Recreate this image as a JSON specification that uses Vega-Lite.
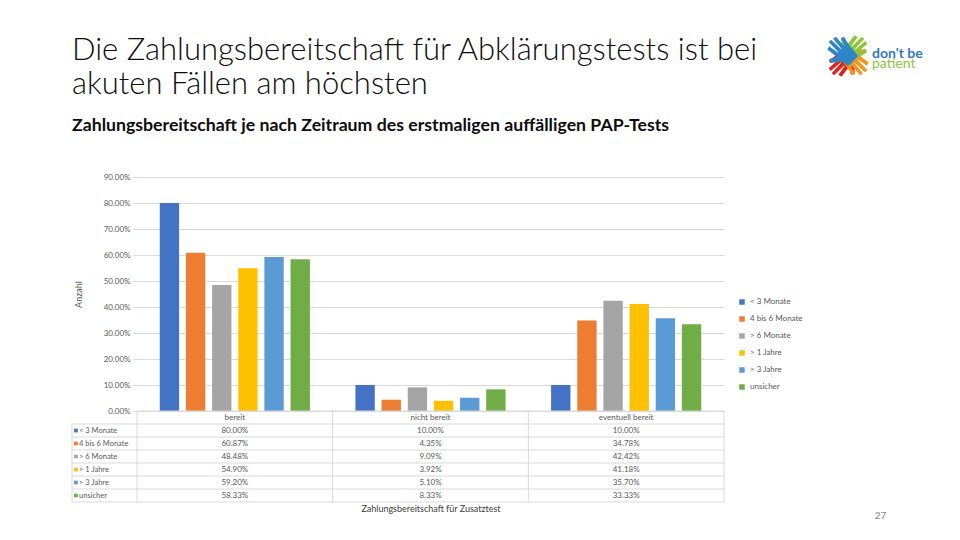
{
  "$schema": "https://vega.github.io/schema/vega-lite/v6.json",
  "background": "white",
  "padding": {"left": 71, "top": 30, "right": 10, "bottom": 5},
  "config": {"view": {"stroke": null}, "font": "Lato"},
  "datasets": {
    "payment": [
      {"category": "bereit", "series": "< 3 Monate", "value": 80.00},
      {"category": "bereit", "series": "4 bis 6 Monate", "value": 60.87},
      {"category": "bereit", "series": "> 6 Monate", "value": 48.48},
      {"category": "bereit", "series": "> 1 Jahre", "value": 54.90},
      {"category": "bereit", "series": "> 3 Jahre", "value": 59.20},
      {"category": "bereit", "series": "unsicher", "value": 58.33},
      {"category": "nicht bereit", "series": "< 3 Monate", "value": 10.00},
      {"category": "nicht bereit", "series": "4 bis 6 Monate", "value": 4.35},
      {"category": "nicht bereit", "series": "> 6 Monate", "value": 9.09},
      {"category": "nicht bereit", "series": "> 1 Jahre", "value": 3.92},
      {"category": "nicht bereit", "series": "> 3 Jahre", "value": 5.10},
      {"category": "nicht bereit", "series": "unsicher", "value": 8.33},
      {"category": "eventuell bereit", "series": "< 3 Monate", "value": 10.00},
      {"category": "eventuell bereit", "series": "4 bis 6 Monate", "value": 34.78},
      {"category": "eventuell bereit", "series": "> 6 Monate", "value": 42.42},
      {"category": "eventuell bereit", "series": "> 1 Jahre", "value": 41.18},
      {"category": "eventuell bereit", "series": "> 3 Jahre", "value": 35.70},
      {"category": "eventuell bereit", "series": "unsicher", "value": 33.33}
    ]
  },
  "spacing": 38,
  "vconcat": [
    {
      "spacing": 2,
      "hconcat": [
        {
          "width": 687,
          "height": 1,
          "data": {"values": [{}]},
          "mark": {"type": "point", "opacity": 0},
          "encoding": {},
          "title": {
            "text": ["Die Zahlungsbereitschaft für Abklärungstests ist bei", "akuten Fällen am höchsten"],
            "orient": "bottom",
            "anchor": "start",
            "frame": "group",
            "offset": 0,
            "dx": -65,
            "font": "Lato",
            "fontSize": 31,
            "fontWeight": 300,
            "color": "#0D0D0D",
            "lineHeight": 34,
            "subtitle": "Zahlungsbereitschaft je nach Zeitraum des erstmaligen auffälligen PAP-Tests",
            "subtitleFont": "Lato",
            "subtitleFontSize": 17.7,
            "subtitleFontWeight": "bold",
            "subtitleColor": "#0D0D0D",
            "subtitlePadding": 16
          }
        },
        {
          "width": 44,
          "height": 46,
          "layer": [
            {
              "data": {"values": [{"hand": "rot"}]},
              "mark": {"type": "point", "filled": true, "opacity": 1, "strokeWidth": 0, "color": "#E2231A", "size": 2300, "angle": -135,
                "shape": "M-0.36,-0.4L0.36,-0.4L0.3,0.3L-0.3,0.3Z M-0.36,-0.35L-0.42,-0.8L-0.27,-0.84L-0.19,-0.35Z M-0.17,-0.35L-0.16,-0.98L-0.02,-0.98L0,-0.35Z M0.02,-0.35L0.07,-0.95L0.21,-0.93L0.18,-0.35Z M0.2,-0.33L0.31,-0.74L0.44,-0.68L0.36,-0.28Z M-0.3,0.02L-0.74,-0.33L-0.63,-0.46L-0.24,-0.24Z"},
              "encoding": {}
            },
            {
              "data": {"values": [{"hand": "orange"}]},
              "mark": {"type": "point", "filled": true, "opacity": 1, "strokeWidth": 0, "color": "#F7941D", "size": 2300, "angle": 135,
                "shape": "M-0.36,-0.4L0.36,-0.4L0.3,0.3L-0.3,0.3Z M-0.36,-0.35L-0.42,-0.8L-0.27,-0.84L-0.19,-0.35Z M-0.17,-0.35L-0.16,-0.98L-0.02,-0.98L0,-0.35Z M0.02,-0.35L0.07,-0.95L0.21,-0.93L0.18,-0.35Z M0.2,-0.33L0.31,-0.74L0.44,-0.68L0.36,-0.28Z M-0.3,0.02L-0.74,-0.33L-0.63,-0.46L-0.24,-0.24Z"},
              "encoding": {}
            },
            {
              "data": {"values": [{"hand": "gruen"}]},
              "mark": {"type": "point", "filled": true, "opacity": 1, "strokeWidth": 0, "color": "#8CC63F", "size": 2300, "angle": 45,
                "shape": "M-0.36,-0.4L0.36,-0.4L0.3,0.3L-0.3,0.3Z M-0.36,-0.35L-0.42,-0.8L-0.27,-0.84L-0.19,-0.35Z M-0.17,-0.35L-0.16,-0.98L-0.02,-0.98L0,-0.35Z M0.02,-0.35L0.07,-0.95L0.21,-0.93L0.18,-0.35Z M0.2,-0.33L0.31,-0.74L0.44,-0.68L0.36,-0.28Z M-0.3,0.02L-0.74,-0.33L-0.63,-0.46L-0.24,-0.24Z"},
              "encoding": {}
            },
            {
              "data": {"values": [{"hand": "blau"}]},
              "mark": {"type": "point", "filled": true, "opacity": 1, "strokeWidth": 0, "color": "#2E86C8", "size": 2300, "angle": -45,
                "shape": "M-0.36,-0.4L0.36,-0.4L0.3,0.3L-0.3,0.3Z M-0.36,-0.35L-0.42,-0.8L-0.27,-0.84L-0.19,-0.35Z M-0.17,-0.35L-0.16,-0.98L-0.02,-0.98L0,-0.35Z M0.02,-0.35L0.07,-0.95L0.21,-0.93L0.18,-0.35Z M0.2,-0.33L0.31,-0.74L0.44,-0.68L0.36,-0.28Z M-0.3,0.02L-0.74,-0.33L-0.63,-0.46L-0.24,-0.24Z"},
              "encoding": {}
            }
          ]
        },
        {
          "width": 60,
          "height": 1,
          "data": {"values": [{}]},
          "mark": {"type": "point", "opacity": 0},
          "encoding": {},
          "title": {
            "text": "don't be",
            "orient": "bottom",
            "anchor": "start",
            "frame": "group",
            "offset": 11,
            "font": "Lato",
            "fontSize": 14,
            "fontWeight": "bold",
            "color": "#2F78BE",
            "subtitle": "patient",
            "subtitleFont": "Lato",
            "subtitleFontSize": 14,
            "subtitleColor": "#8CC63F",
            "subtitlePadding": -4
          }
        }
      ]
    },
    {
      "spacing": 0,
      "bounds": "flush",
      "resolve": {"scale": {"color": "independent"}},
      "vconcat": [
        {
          "width": 587,
          "height": 234,
          "data": {"name": "payment"},
          "mark": {"type": "bar"},
          "encoding": {
            "x": {"field": "category", "type": "nominal", "sort": ["bereit", "nicht bereit", "eventuell bereit"], "scale": {"paddingInner": 0, "paddingOuter": 0}, "axis": null},
            "xOffset": {"field": "series", "type": "nominal", "sort": ["< 3 Monate", "4 bis 6 Monate", "> 6 Monate", "> 1 Jahre", "> 3 Jahre", "unsicher"], "scale": {"paddingInner": 0.26, "paddingOuter": 0.87}},
            "y": {
              "field": "value", "type": "quantitative",
              "scale": {"domain": [0, 90], "nice": false},
              "axis": {
                "values": [0, 10, 20, 30, 40, 50, 60, 70, 80, 90],
                "labelExpr": "format(datum.value, '.2f') + '%'",
                "title": "Anzahl",
                "grid": true, "gridColor": "#D9D9D9",
                "domain": false, "ticks": true, "tickColor": "#D9D9D9", "tickSize": 4,
                "labelPadding": 3, "labelFontSize": 8, "labelColor": "#595959", "labelFont": "Lato",
                "titleFontSize": 9, "titleFontWeight": "normal", "titleColor": "#595959", "titleFont": "Lato", "titlePadding": 20
              }
            },
            "color": {
              "field": "series", "type": "nominal",
              "scale": {"domain": ["< 3 Monate", "4 bis 6 Monate", "> 6 Monate", "> 1 Jahre", "> 3 Jahre", "unsicher"], "range": ["#4472C4", "#ED7D31", "#A5A5A5", "#FFC000", "#5B9BD5", "#70AD47"]},
              "legend": {"title": null, "orient": "none", "legendX": 601, "legendY": 121, "symbolType": "square", "symbolSize": 30, "labelFontSize": 8, "labelColor": "#595959", "labelFont": "Lato", "rowPadding": 9}
            }
          }
        },
        {
          "width": 587,
          "height": 91,
          "layer": [
            {
              "data": {"name": "payment"},
              "transform": [
                {"filter": "datum.category == 'bereit'"},
                {"calculate": "indexof(['< 3 Monate','4 bis 6 Monate','> 6 Monate','> 1 Jahre','> 3 Jahre','unsicher'], datum.series) + 2", "as": "rb"}
              ],
              "mark": {"type": "rule", "color": "#D9D9D9", "strokeWidth": 1},
              "encoding": {
                "x": {"datum": -0.332, "type": "quantitative", "scale": {"domain": [0, 3], "nice": false, "zero": false}, "axis": {"title": "Zahlungsbereitschaft für Zusatztest", "labels": false, "ticks": false, "domain": false, "grid": false, "titleFontSize": 9, "titleFont": "Lato", "titleFontWeight": "normal", "titleColor": "#404040", "titlePadding": 2.5}},
                "x2": {"datum": 3},
                "y": {"field": "rb", "type": "quantitative", "scale": {"domain": [0, 7], "reverse": true, "nice": false, "zero": false}, "axis": null}
              }
            },
            {
              "data": {"values": [{}]},
              "mark": {"type": "rule", "color": "#D9D9D9", "strokeWidth": 1},
              "encoding": {
                "x": {"datum": -0.332, "type": "quantitative"},
                "x2": {"datum": 3},
                "y": {"datum": 1, "type": "quantitative"}
              }
            },
            {
              "data": {"values": [{}]},
              "mark": {"type": "rule", "color": "#D9D9D9", "strokeWidth": 1},
              "encoding": {
                "x": {"datum": 0, "type": "quantitative"},
                "x2": {"datum": 3},
                "y": {"datum": 0, "type": "quantitative"}
              }
            },
            {
              "data": {"name": "payment"},
              "transform": [
                {"filter": "datum.series == '< 3 Monate'"},
                {"calculate": "indexof(['bereit','nicht bereit','eventuell bereit'], datum.category)", "as": "cl"}
              ],
              "mark": {"type": "rule", "color": "#D9D9D9", "strokeWidth": 1},
              "encoding": {
                "x": {"field": "cl", "type": "quantitative"},
                "y": {"datum": 0, "type": "quantitative"},
                "y2": {"datum": 7}
              }
            },
            {
              "data": {"values": [{}]},
              "mark": {"type": "rule", "color": "#D9D9D9", "strokeWidth": 1},
              "encoding": {
                "x": {"datum": 3, "type": "quantitative"},
                "y": {"datum": 0, "type": "quantitative"},
                "y2": {"datum": 7}
              }
            },
            {
              "data": {"values": [{}]},
              "mark": {"type": "rule", "color": "#D9D9D9", "strokeWidth": 1},
              "encoding": {
                "x": {"datum": -0.332, "type": "quantitative"},
                "y": {"datum": 1, "type": "quantitative"},
                "y2": {"datum": 7}
              }
            },
            {
              "data": {"name": "payment"},
              "transform": [
                {"filter": "datum.series == '< 3 Monate'"},
                {"calculate": "indexof(['bereit','nicht bereit','eventuell bereit'], datum.category) + 0.5", "as": "cx"}
              ],
              "mark": {"type": "text", "fontSize": 8, "color": "#595959", "baseline": "middle", "font": "Lato"},
              "encoding": {
                "x": {"field": "cx", "type": "quantitative"},
                "y": {"datum": 0.5, "type": "quantitative"},
                "text": {"field": "category"}
              }
            },
            {
              "data": {"name": "payment"},
              "transform": [
                {"calculate": "indexof(['bereit','nicht bereit','eventuell bereit'], datum.category) + 0.5", "as": "cx"},
                {"calculate": "indexof(['< 3 Monate','4 bis 6 Monate','> 6 Monate','> 1 Jahre','> 3 Jahre','unsicher'], datum.series) + 1.5", "as": "ry"},
                {"calculate": "format(datum.value, '.2f') + '%'", "as": "cell"}
              ],
              "mark": {"type": "text", "fontSize": 8, "color": "#595959", "baseline": "middle", "font": "Lato"},
              "encoding": {
                "x": {"field": "cx", "type": "quantitative"},
                "y": {"field": "ry", "type": "quantitative"},
                "text": {"field": "cell"}
              }
            },
            {
              "data": {"name": "payment"},
              "transform": [
                {"filter": "datum.category == 'bereit'"},
                {"calculate": "indexof(['< 3 Monate','4 bis 6 Monate','> 6 Monate','> 1 Jahre','> 3 Jahre','unsicher'], datum.series) + 1.5", "as": "ry"}
              ],
              "mark": {"type": "text", "fontSize": 7.5, "color": "#595959", "baseline": "middle", "align": "left", "font": "Lato"},
              "encoding": {
                "x": {"datum": -0.296, "type": "quantitative"},
                "y": {"field": "ry", "type": "quantitative"},
                "text": {"field": "series"}
              }
            },
            {
              "data": {"name": "payment"},
              "transform": [
                {"filter": "datum.category == 'bereit'"},
                {"calculate": "indexof(['< 3 Monate','4 bis 6 Monate','> 6 Monate','> 1 Jahre','> 3 Jahre','unsicher'], datum.series) + 1.5", "as": "ry"}
              ],
              "mark": {"type": "square", "size": 14, "opacity": 1},
              "encoding": {
                "x": {"datum": -0.312, "type": "quantitative"},
                "y": {"field": "ry", "type": "quantitative"},
                "color": {"field": "series", "type": "nominal", "scale": {"domain": ["< 3 Monate", "4 bis 6 Monate", "> 6 Monate", "> 1 Jahre", "> 3 Jahre", "unsicher"], "range": ["#4472C4", "#ED7D31", "#A5A5A5", "#FFC000", "#5B9BD5", "#70AD47"]}, "legend": null}
              }
            },
            {
              "data": {"values": [{"page": "27"}]},
              "mark": {"type": "text", "fontSize": 10, "color": "#7F7F7F", "baseline": "middle", "font": "Lato"},
              "encoding": {
                "x": {"datum": 3.8, "type": "quantitative"},
                "y": {"datum": 8.05, "type": "quantitative"},
                "text": {"field": "page"}
              }
            }
          ]
        }
      ]
    }
  ]
}
